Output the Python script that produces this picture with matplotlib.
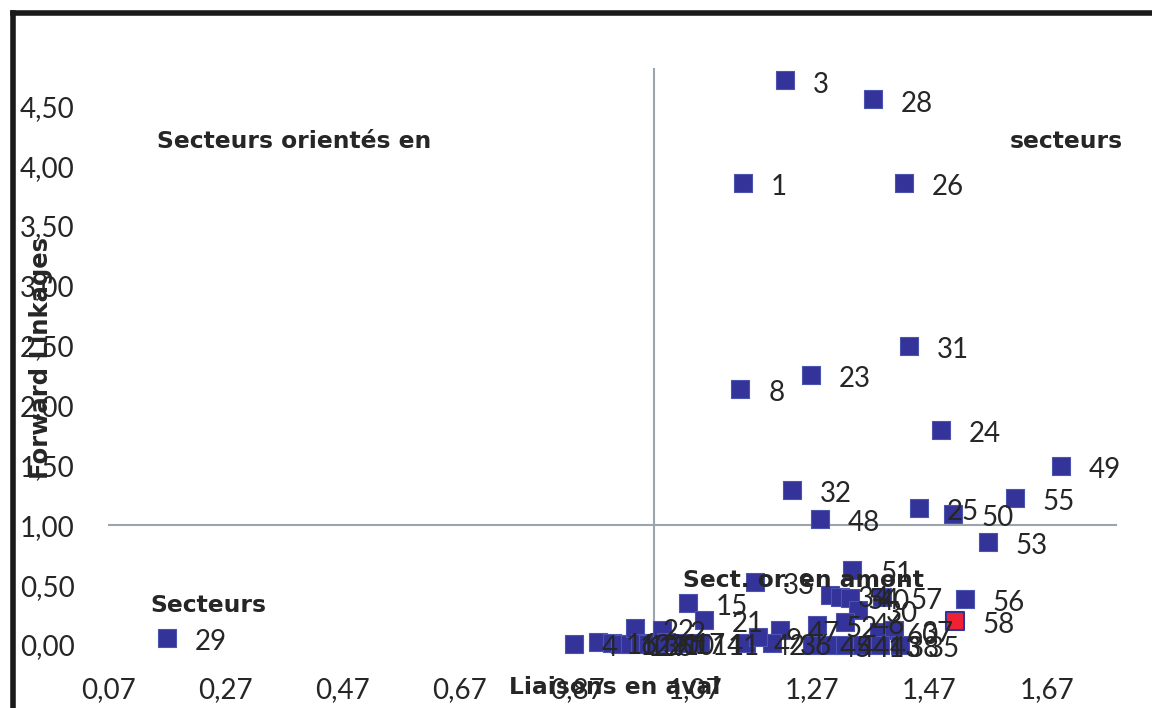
import matplotlib.pyplot as plt
from matplotlib.lines import Line2D

# sector numbers and their linkages
sectors = [3, 28, 1, 26, 31, 8, 23, 24, 49, 32, 48, 25, 50, 55, 53, 29,
           56, 33, 51, 34, 54, 40, 57, 30, 46, 52, 47, 60, 37, 42, 36, 45,
           44, 41, 43, 38, 35, 9, 4, 16, 12, 13, 19, 22, 20, 6, 10, 2, 17,
           15, 14, 11, 21]
backward = [1.224, 1.374, 1.153, 1.427, 1.436, 1.148, 1.269, 1.490, 1.695,
            1.236, 1.284, 1.453, 1.511, 1.616, 1.570, 0.171, 1.531, 1.173,
            1.339, 1.301, 1.318, 1.335, 1.390, 1.349, 1.327, 1.279, 1.216,
            1.384, 1.410, 1.158, 1.202, 1.270, 1.301, 1.327, 1.356, 1.386,
            1.420, 1.178, 0.865, 0.905, 0.929, 0.943, 0.960, 0.969, 0.977,
            0.991, 1.003, 1.015, 1.021, 1.059, 1.052, 1.079, 1.086]
forward = [4.716, 4.557, 3.863, 3.863, 2.50, 2.14, 2.258, 1.798, 1.497,
           1.296, 1.054, 1.146, 1.095, 1.229, 0.861, 0.06, 0.385, 0.527,
           0.627, 0.418, 0.401, 0.393, 0.401, 0.293, 0.192, 0.167, 0.125,
           0.11, 0.125, 0.017, 0.017, 0.0, 0.0, 0.0, 0.0, 0.0, 0.0, 0.067,
           0.008, 0.025, 0.017, 0.008, 0.008, 0.142, 0.017, 0.008, 0.017,
           0.125, 0.025, 0.351, 0.017, 0.017, 0.209]

# highlighted sector (red)
red_sector = [58]
red_backward = [1.514]
red_forward = [0.20]

x_ticks = [0.07, 0.27, 0.47, 0.67, 0.87, 1.07, 1.27, 1.47, 1.67]
y_ticks = [0.0, 0.5, 1.0, 1.5, 2.0, 2.5, 3.0, 3.5, 4.0, 4.5]

plt.rcParams['font.family'] = ['Lato', 'DejaVu Sans']
text_col = '#262626'
bold_font = ['DejaVu Sans']

fig = plt.figure(figsize=(11.52, 7.08), dpi=100)
ax = fig.add_axes([108 / 1152, 63 / 708, (1117 - 108) / 1152, (645 - 68) / 708])

ax.set_xlim(0.07, 1.79)
ax.set_ylim(0, 4.82)

ax.axhline(1.0, color='#9da4ad', lw=1.5, zorder=1)
ax.axvline(1.0, color='#9da4ad', lw=1.5, zorder=1)

ax.scatter(backward, forward, marker='s', s=175, facecolor='#333399',
           edgecolor='#4b55b0', linewidths=0.8, zorder=3, clip_on=False)
ax.scatter(red_backward, red_forward, marker='s', s=175, facecolor='#ee2233',
           edgecolor='#333399', linewidths=1.5, zorder=3, clip_on=False)

for name, xv, yv in zip(sectors + red_sector, backward + red_backward, forward + red_forward):
    ax.annotate(str(name), (xv, yv), xytext=(20, -3), textcoords='offset points',
                fontsize=20, color=text_col, va='center', ha='left',
                zorder=5, annotation_clip=False)

# quadrant captions
cap = dict(fontsize=16.8, fontweight='bold', color=text_col, va='center',
           ha='left', family=bold_font)
ax.text(0.154, 4.206, 'Secteurs orientés en', **cap)
ax.text(1.608, 4.206, 'secteurs', clip_on=False, **cap)
ax.text(0.142, 0.326, 'Secteurs', **cap)
ax.text(1.050, 0.535, 'Sect. or. en amont', zorder=6, **cap)

ax.set_xticks(x_ticks)
ax.set_xticklabels([f'{v:.2f}'.replace('.', ',') for v in x_ticks])
ax.set_yticks(y_ticks)
ax.set_yticklabels([f'{v:.2f}'.replace('.', ',') for v in y_ticks])
ax.tick_params(axis='x', length=0, pad=23, labelsize=20, labelcolor=text_col)
ax.tick_params(axis='y', length=0, pad=24, labelsize=20, labelcolor=text_col)
for s in ax.spines.values():
    s.set_visible(False)

# axis titles
fig.text(615 / 1152, 1 - 688 / 708, 'Liaisons en aval', fontsize=16.8,
         fontweight='bold', color=text_col, ha='center', va='center',
         family=bold_font, zorder=10)
fig.text(41 / 1152, 1 - 358 / 708, 'Forward Linkages', fontsize=17.5,
         fontweight='bold', color=text_col, ha='center', va='center',
         rotation=90, family=bold_font, zorder=10)

# black chart frame (cropped on right and bottom)
fig.add_artist(Line2D([13 / 1152, 13 / 1152], [0, 1 - 13 / 708], color='#1a1a1a', lw=4))
fig.add_artist(Line2D([13 / 1152, 1], [1 - 13 / 708, 1 - 13 / 708], color='#1a1a1a', lw=4))

fig.savefig('out.png', dpi=100)
